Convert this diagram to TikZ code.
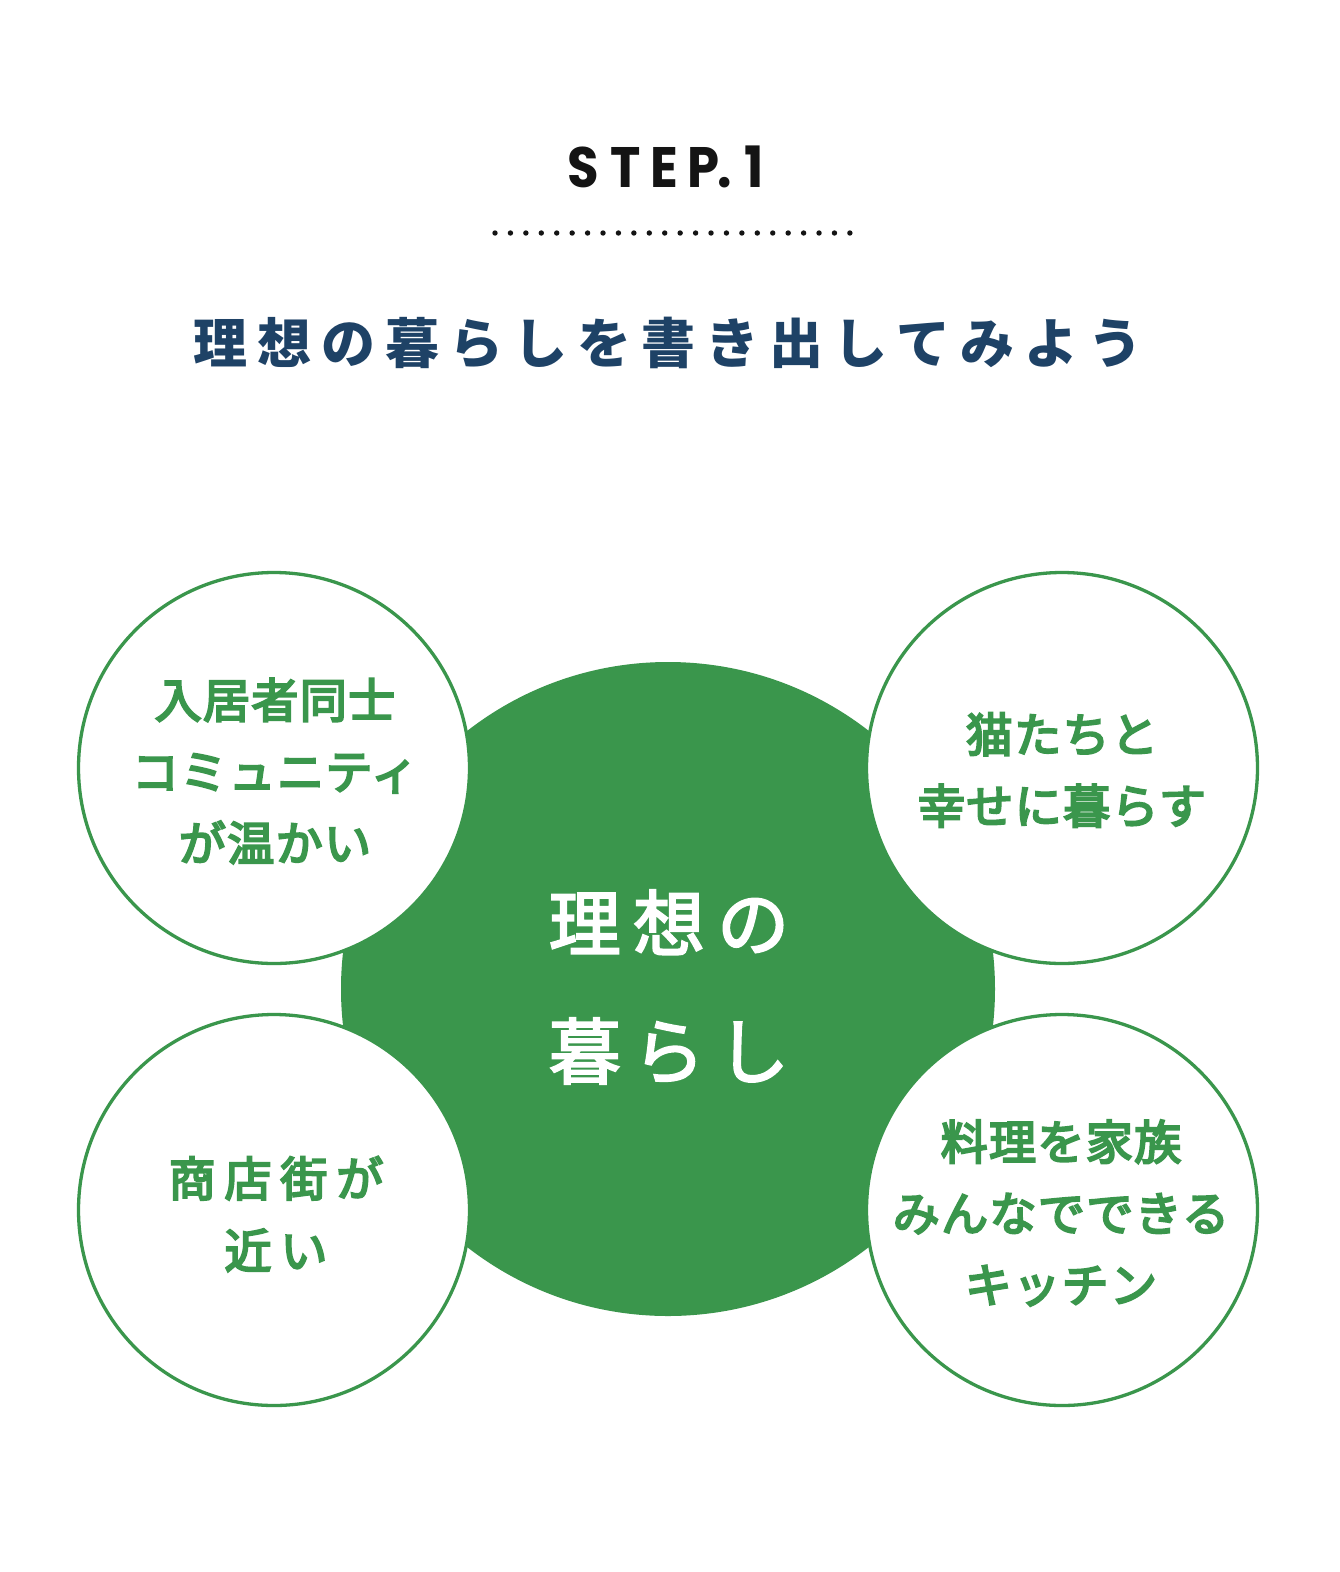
\documentclass[tikz,border=0pt]{standalone}
\usepackage{fontspec}
\newfontfamily\jp{Noto Sans CJK JP}
\newfontfamily\jpmid{Noto Sans CJK JP}[FakeBold=4.5]
\newfontfamily\jplt{Noto Sans CJK JP}[FakeBold=2.8]
\newfontfamily\pop{Poppins}
\definecolor{grn}{RGB}{58,150,76}
\definecolor{navy}{RGB}{30,66,102}
\definecolor{ink}{RGB}{20,20,20}
\begin{document}
\begin{tikzpicture}[x=1pt,y=-1pt,
  bigc/.style={circle,fill=grn,minimum size=654pt,inner sep=0pt},
  bubble/.style={circle,draw=grn,line width=3.3pt,fill=white,minimum size=391pt,inner sep=0pt},
  steplet/.style={anchor=base,inner sep=0pt,text=ink,xscale=0.9,font=\pop\bfseries\fontsize{57}{60}\selectfont},
  dotmark/.style={circle,fill=ink,minimum size=5.4pt,inner sep=0pt},
  titletext/.style={inner sep=0pt,text=navy,font={\jp\bfseries\fontsize{54}{60}\selectfont\addfontfeatures{LetterSpace=18.5}}},
  centertext/.style={inner sep=0pt,text=white,align=center,font={\jplt\fontsize{72}{128}\selectfont\addfontfeatures{LetterSpace=17}}},
  bubtext/.style={inner sep=0pt,text=grn,align=center,font={\jpmid\fontsize{47}{71.5}\selectfont\addfontfeatures{LetterSpace=3}}},
  bubtextwide/.style={inner sep=0pt,text=grn,align=center,font={\jpmid\fontsize{47}{72}\selectfont\addfontfeatures{LetterSpace=19}}}
]
\useasboundingbox[fill=white] (0,0) rectangle (1340,1572);

% STEP.1
\node[steplet] (s1) at (583,187) {S};
\node[steplet] (s2) at (626,187) {T};
\node[steplet] (s3) at (664,187) {E};
\node[steplet] (s4) at (703,187) {P};
\node[steplet] (s5) at (725,187) {.};
\node[steplet] (s6) at (754,187) {1};

% dotted rule
\foreach \i in {0,...,23}{
  \node[dotmark] (d\i) at (495+\i*15.43,233) {};
}

% title
\node[titletext] (title) at (668,343) {理想の暮らしを書き出してみよう};

% circles
\node[bigc] (center) at (668,989) {};
\node[bubble] (tl) at (274,768) {};
\node[bubble] (tr) at (1062,768) {};
\node[bubble] (bl) at (274,1210) {};
\node[bubble] (br) at (1062,1210) {};

% texts
\node[centertext] (ct) at (669,987) {理想の\\暮らし};
\node[bubtext] (tlt) at (275,771) {入居者同士\\コミュニティ\\が温かい};
\node[bubtext] (trt) at (1062,770) {猫たちと\\幸せに暮らす};
\node[bubtextwide] (blt) at (276,1214) {商店街が\\近い};
\node[bubtext] (brt) at (1061,1213) {料理を家族\\みんなでできる\\キッチン};
\end{tikzpicture}
\end{document}
